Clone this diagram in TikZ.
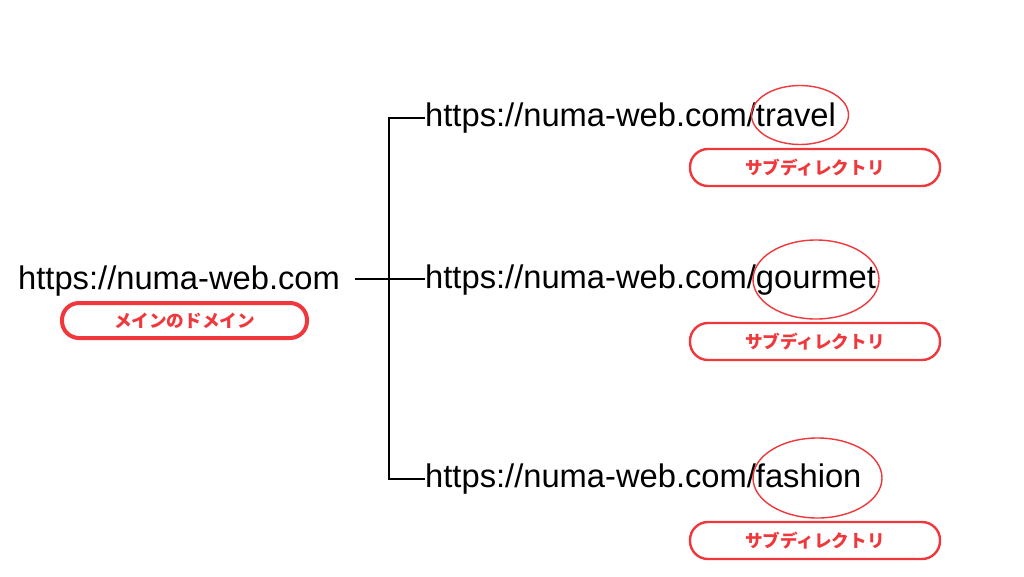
\documentclass[tikz,border=0pt]{standalone}
\usepackage{fontspec}
\setmainfont{Liberation Sans}
\newfontfamily\cjk{Noto Sans CJK JP}
\definecolor{accent}{RGB}{240,56,60}
\tikzset{
  url/.style={font=\fontsize{32.7}{36}\selectfont, text=black, inner sep=0pt, anchor=base west},
  pill/.style={draw=accent, rounded corners=18pt, minimum width=250pt, minimum height=37pt, inner sep=0pt,
    text=accent, font=\cjk\bfseries\fontsize{17.6}{19}\selectfont, line width=2.4pt},
  mainpill/.style={pill, line width=4pt, minimum width=245pt, minimum height=35pt, rounded corners=17pt},
  mark ring/.style={draw=accent, line width=1.4pt},
  link/.style={draw=black, line width=2pt}
}
\begin{document}
\begin{tikzpicture}[x=1pt,y=-1pt]
\useasboundingbox[fill=white] (0,0) rectangle (1024,576);
% texts
\node[url] (main) at (18,289) {https://numa-web.com};
\node[url] (travel) at (425,126) {https://numa-web.com/travel};
\node[url] (gourmet) at (425,288) {https://numa-web.com/gourmet};
\node[url] (fashion) at (425,487) {https://numa-web.com/fashion};
% labels
\node[mainpill] (mainlbl) at (184.5,320.5) {メインのドメイン};
\node[pill] (lbl1) at (815,167.5) {サブディレクトリ};
\node[pill] (lbl2) at (815,341.5) {サブディレクトリ};
\node[pill] (lbl3) at (815,540.5) {サブディレクトリ};
% rings
\draw[mark ring] (800,115) ellipse [x radius=48.5pt, y radius=29.5pt];
\draw[mark ring] (816,279.5) ellipse [x radius=63pt, y radius=39.5pt];
\draw[mark ring] (817.5,478) ellipse [x radius=64.5pt, y radius=40pt];
% connectors
\coordinate (start) at (355,279);
\coordinate (junc) at (389,279);
\draw[link] (start) -- (start -| gourmet.west);
\draw[link] (junc) |- (travel.west);
\draw[link] (junc) |- (fashion.west);
\end{tikzpicture}
\end{document}
